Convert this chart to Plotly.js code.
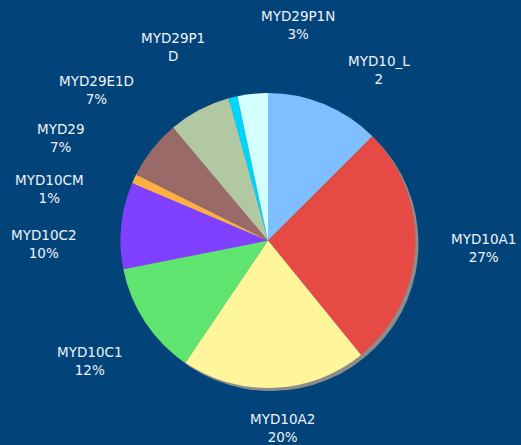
<!DOCTYPE html>
<html>
<head>
<meta charset="utf-8">
<script src="https://cdn.plot.ly/plotly-3.0.1.min.js"></script>
<style>html,body{margin:0;padding:0;background:#02447a;}#chart{width:521px;height:445px;}</style>
</head>
<body>
<div id="chart"></div>
<script>
// Data (percent share of each product)
const labels = ['MYD10_L2','MYD10A1','MYD10A2','MYD10C1','MYD10C2','MYD10CM','MYD29','MYD29E1D','MYD29P1D','MYD29P1N'];
const values = [12.5, 26.6, 20.3, 12.4, 9.5, 1.0, 6.5, 6.8, 1.0, 3.3];
// Text exactly as shown next to each slice (two lines)
const labelLine1 = ['MYD10_L','MYD10A1','MYD10A2','MYD10C1','MYD10C2','MYD10CM','MYD29','MYD29E1D','MYD29P1','MYD29P1N'];
const labelLine2 = ['2','27%','20%','12%','10%','1%','7%','7%','D','3%'];

// Styling
const colors = ['#7fbfff','#e64a44','#fff59b','#5ee46f','#8040ff','#ffb040','#996a68','#b2c8a2','#00d4f8','#d4ffff'];
const W = 521, H = 445;
const cx = 268, cy = 240.5, R = 147.5, shadowOff = 3;
// label centres in pixels
const labelPos = [[379,70],[483,248],[282,428],[89,361],[43,244],[49,189],[60,138],[96,90],[173,47],[298,25]];

function domainFor(x, y, r){
  return {x:[(x-r)/W,(x+r)/W], y:[(H-y-r)/H,(H-y+r)/H]};
}
const total = values.reduce((a,b)=>a+b,0);

const shadow = {
  type:'pie', values:[total], labels:['shadow'], sort:false,
  marker:{colors:['#8c8c8c'], line:{width:0}},
  textinfo:'none', hoverinfo:'skip', showlegend:false,
  domain: domainFor(cx+shadowOff, cy+shadowOff, R)
};
const pie = {
  type:'pie', values:values, labels:labels, sort:false, direction:'clockwise', rotation:0,
  marker:{colors:colors, line:{width:0}},
  textinfo:'none', showlegend:false,
  domain: domainFor(cx, cy, R)
};
const annotations = labels.map((l,i)=>({
  xref:'paper', yref:'paper', x:labelPos[i][0]/W, y:1-labelPos[i][1]/H,
  xanchor:'center', yanchor:'middle', showarrow:false, align:'center',
  text: labelLine1[i] + '<br>' + labelLine2[i],
  font:{family:'DejaVu Sans, Verdana, sans-serif', size:13.5, color:'#eef2f6'}
}));
const layout = {
  width:W, height:H, margin:{l:0,r:0,t:0,b:0},
  paper_bgcolor:'#02447a', plot_bgcolor:'#02447a',
  showlegend:false, annotations:annotations
};
Plotly.newPlot('chart',[shadow,pie],layout,{displayModeBar:false,staticPlot:true});
</script>
</body>
</html>
